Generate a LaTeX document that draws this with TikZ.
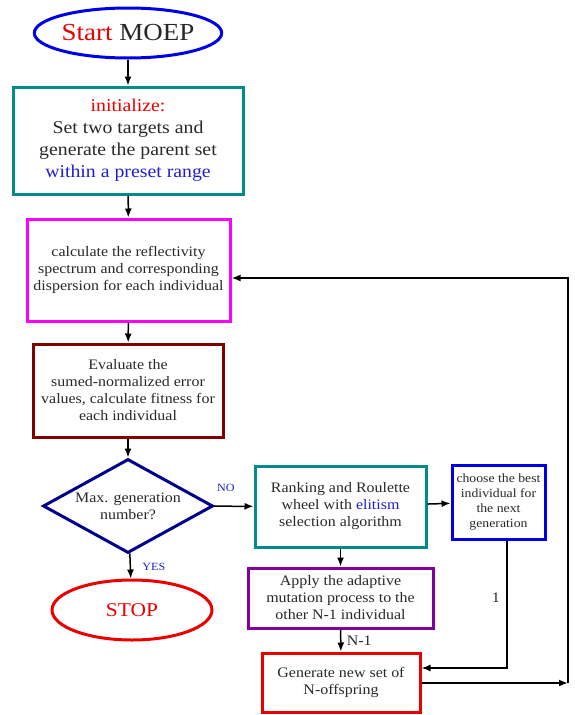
\documentclass[tikz,border=0pt]{standalone}
\usepackage{fontspec}
\setmainfont[FakeStretch=1.1]{Liberation Serif}
\usetikzlibrary{shapes.geometric,arrows.meta}
\definecolor{tealb}{RGB}{0,140,140}
\definecolor{magb}{RGB}{255,0,255}
\definecolor{maroonb}{RGB}{128,0,0}
\definecolor{navyb}{RGB}{0,0,140}
\definecolor{blueb}{RGB}{0,0,230}
\definecolor{purpb}{RGB}{130,0,160}
\definecolor{redb}{RGB}{235,0,0}
\definecolor{txtblue}{RGB}{30,30,210}
\definecolor{txtgray}{RGB}{40,40,40}
\tikzset{
  boxn/.style={draw, line width=3pt, rectangle, inner sep=0pt, align=center, text=txtgray},
  ovaln/.style={draw, line width=3pt, ellipse, inner sep=0pt},
  arr/.style={line width=1.5pt, -{Latex[length=9pt,width=7pt]}},
  fsmall/.style={font=\fontsize{14.5}{17}\selectfont},
  ftiny/.style={font=\fontsize{12.5}{15}\selectfont},
  flabel/.style={font=\fontsize{11}{13}\selectfont, text=txtblue},
}
\begin{document}
\begin{tikzpicture}[x=1pt,y=-1pt]
\useasboundingbox (0,0) rectangle (574,715);
\node[ovaln, draw=blueb, minimum width=166pt, minimum height=50pt,
      font=\fontsize{24.5}{28}\selectfont] (start) at (128,33)
      {\textcolor{redb}{Start} \textcolor{txtgray}{MOEP}};
\node[boxn, draw=tealb, minimum width=230pt, minimum height=107pt,
      font=\fontsize{18}{22}\selectfont] (init) at (128,140.5)
      {\textcolor{redb}{initialize:}\\Set two targets and\\generate the parent set\\\textcolor{txtblue}{within a preset range}};
\node[boxn, draw=magb, minimum width=203pt, minimum height=102pt, fsmall] (calc) at (128.5,270)
      {calculate the reflectivity\\spectrum and corresponding\\dispersion for each individual};
\node[boxn, draw=maroonb, minimum width=190pt, minimum height=93pt, fsmall] (eval) at (128,390.5)
      {Evaluate the\\sumed-normalized error\\values, calculate fitness for\\each individual};
\node[diamond, draw=navyb, line width=3pt, inner sep=0pt, aspect=1.81,
      minimum width=170pt, minimum height=94pt, align=center, text=txtgray, fsmall] (dec) at (128,506)
      {Max. generation\\number?};
\node[ovaln, draw=redb, minimum width=160pt, minimum height=60pt, text=redb,
      font=\fontsize{19.5}{24}\selectfont] (stop) at (132,610) {STOP};
\node[boxn, draw=tealb, minimum width=171pt, minimum height=81pt, fsmall] (rank) at (340.5,506.5)
      {Ranking and Roulette\\wheel with \textcolor{txtblue}{elitism}\\selection algorithm};
\node[boxn, draw=blueb, minimum width=93pt, minimum height=74pt, ftiny] (best) at (498.5,502)
      {choose the best\\individual for\\the next\\generation};
\node[boxn, draw=purpb, minimum width=185pt, minimum height=60pt, fsmall] (mut) at (340.5,598)
      {Apply the adaptive\\mutation process to the\\other N-1 individual};
\node[boxn, draw=redb, minimum width=158pt, minimum height=59pt, fsmall] (gen) at (341,682.5)
      {Generate new set of\\N-offspring};

\coordinate (loopb) at (568,683);
\coordinate (loopt) at (568,278);
\coordinate (calcin) at (calc.east |- loopt);
\coordinate (bestout) at (507,0);
\coordinate (bestdown) at (507,668);
\coordinate (genin) at (gen.east |- bestdown);

\draw[arr] (start) -- (init);
\draw[arr] (init) -- (calc);
\draw[arr] (calc) -- (eval);
\draw[arr] (eval) -- (dec);
\draw[arr] (dec) -- (stop) node[pos=0.55, right=8pt, flabel] {YES};
\draw[arr] (dec) -- (rank) node[pos=0.3, above=11pt, flabel] {NO};
\draw[arr] (rank) -- (best);
\draw[arr] (rank) -- (mut);
\draw[arr] (mut) -- (gen) node[midway, right=2pt, fsmall, text=txtgray] {N-1};
\draw[arr] (best.south -| bestout) -- (bestdown) node[pos=0.45, left=3pt, fsmall, text=txtgray] {1} -- (genin);
\draw[arr, line width=2pt] (gen.east |- loopb) -- (loopb);
\draw[arr, line width=2pt] (loopb) -- (loopt) -- (calcin);
\end{tikzpicture}
\end{document}
